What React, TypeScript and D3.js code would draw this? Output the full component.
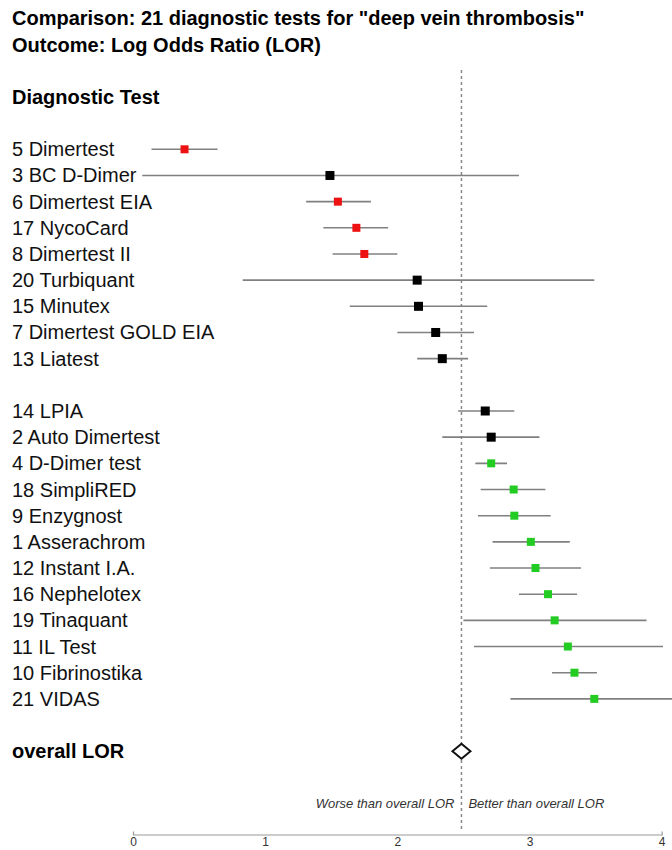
import { useEffect, useRef } from 'react'
import * as d3 from 'd3'

// rows, top to bottom (row 9 is the gap between the two groups)
const tests = [
  '5 Dimertest', '3 BC D-Dimer', '6 Dimertest EIA', '17 NycoCard', '8 Dimertest II',
  '20 Turbiquant', '15 Minutex', '7 Dimertest GOLD EIA', '13 Liatest',
  '14 LPIA', '2 Auto Dimertest', '4 D-Dimer test', '18 SimpliRED', '9 Enzygnost',
  '1 Asserachrom', '12 Instant I.A.', '16 Nephelotex', '19 Tinaquant', '11 IL Test',
  '10 Fibrinostika', '21 VIDAS',
]
const rowIndex = [0, 1, 2, 3, 4, 5, 6, 7, 8, 10, 11, 12, 13, 14, 15, 16, 17, 18, 19, 20, 21]
const lor = [0.39, 1.49, 1.55, 1.69, 1.75, 2.15, 2.16, 2.29, 2.34,
  2.665, 2.71, 2.71, 2.88, 2.885, 3.01, 3.045, 3.14, 3.19, 3.29, 3.34, 3.49]
const lower = [0.14, 0.07, 1.31, 1.44, 1.51, 0.83, 1.64, 2.0, 2.15,
  2.46, 2.34, 2.59, 2.63, 2.61, 2.72, 2.70, 2.92, 2.50, 2.58, 3.17, 2.855]
const upper = [0.64, 2.92, 1.80, 1.93, 2.0, 3.49, 2.68, 2.58, 2.535,
  2.885, 3.075, 2.83, 3.12, 3.16, 3.305, 3.39, 3.36, 3.885, 4.01, 3.51, 4.5]
// 'worse' = red, 'ns' = black, 'better' = green
const verdict = ['worse', 'ns', 'worse', 'worse', 'worse', 'ns', 'ns', 'ns', 'ns',
  'ns', 'ns', 'better', 'better', 'better', 'better', 'better', 'better', 'better', 'better', 'better', 'better']
const overallLor = 2.485
const xTicks = [0, 1, 2, 3, 4]

const colors: Record<string, string> = { worse: '#ee1111', ns: '#000000', better: '#22cc22' }

export default function App() {
  const axisRef = useRef<SVGGElement>(null)
  const width = 672
  const height = 850
  const font = '"Liberation Sans", Arial, sans-serif'

  const x = d3.scaleLinear().domain([0, 4]).range([133, 661.7])
  const y = d3.scaleLinear().domain([0, 1]).range([149.3, 175.47])
  const axisY = 834.5

  useEffect(() => {
    if (!axisRef.current) return
    const g = d3.select(axisRef.current)
    g.selectAll('*').remove()
    g.call(d3.axisBottom(x).tickValues(xTicks).tickFormat(d3.format('d')).tickSizeInner(0).tickSizeOuter(-3).tickPadding(3))
    g.select('.domain').attr('stroke', '#999').attr('stroke-width', 1.2)
    g.selectAll('text').attr('fill', '#333').attr('font-size', '12px').attr('font-family', font)
  }, [])

  const d = x(overallLor)
  const oy = y(23)

  return (
    <svg width={width} height={height} style={{ position: 'absolute', left: 0, top: 0, background: '#fff' }} fontFamily={font}>
      <text x={12} y={y(-5)} dominantBaseline="central" fontSize={20} fontWeight="bold">Comparison: 21 diagnostic tests for "deep vein thrombosis"</text>
      <text x={12} y={y(-4)} dominantBaseline="central" fontSize={20} fontWeight="bold">Outcome: Log Odds Ratio (LOR)</text>
      <text x={12} y={y(-2)} dominantBaseline="central" fontSize={20} fontWeight="bold">Diagnostic Test</text>

      <line x1={d} x2={d} y1={70} y2={830} stroke="#888" strokeWidth={1.5} strokeDasharray="3,3" />

      {tests.map((t, i) => {
        const cy = y(rowIndex[i])
        const s = verdict[i] === 'ns' ? 9 : 8
        return (
          <g key={t}>
            <text x={12} y={cy} dominantBaseline="central" fontSize={20} fill="#111">{t}</text>
            <line x1={x(lower[i])} x2={Math.min(x(upper[i]), width)} y1={cy} y2={cy} stroke="#808080" strokeWidth={1.6} />
            <rect x={x(lor[i]) - s / 2} y={cy - s / 2} width={s} height={s} fill={colors[verdict[i]]} />
          </g>
        )
      })}

      <text x={12} y={oy} dominantBaseline="central" fontSize={20} fontWeight="bold">overall LOR</text>
      <path d={`M${d - 9},${oy} L${d},${oy - 7.5} L${d + 9},${oy} L${d},${oy + 7.5} Z`} fill="#fff" stroke="#111" strokeWidth={2} />

      <text x={d - 7} y={803} textAnchor="end" dominantBaseline="central" fontSize={13} fontStyle="italic" fill="#333">Worse than overall LOR</text>
      <text x={d + 7} y={803} dominantBaseline="central" fontSize={13} fontStyle="italic" fill="#333">Better than overall LOR</text>

      <g ref={axisRef} transform={`translate(0,${axisY})`} />
    </svg>
  )
}
